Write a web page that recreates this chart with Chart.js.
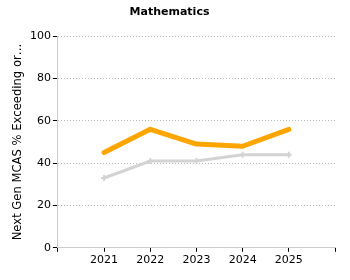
<!DOCTYPE html>
<html>
<head>
<meta charset="utf-8">
<script src="https://cdn.jsdelivr.net/npm/chart.js@4"></script>
<style>
    body { margin: 0; background: #fff; }
    #wrap { width: 350px; height: 280px; }
</style>
</head>
<body>
<div id="wrap"><canvas id="mathChart"></canvas></div>
<script>
// Data
const years = ['', '2021', '2022', '2023', '2024', '2025', ''];
const schoolValues = [null, 45, 56, 49, 48, 56, null];
const stateValues = [null, 33, 41, 41, 44, 44, null];
const yTicks = [0, 20, 40, 60, 80, 100];

const fontFamily = 'Verdana, "DejaVu Sans", sans-serif';

const ctx = document.getElementById('mathChart');

new Chart(ctx, {
    type: 'line',
    data: {
        labels: years,
        datasets: [
            {
                label: 'State',
                data: stateValues,
                borderColor: '#d3d3d3',
                backgroundColor: '#d3d3d3',
                borderWidth: 3,
                pointStyle: 'cross',
                pointRadius: 3,
                pointBorderWidth: 2,
                tension: 0
            },
            {
                label: 'School',
                data: schoolValues,
                borderColor: '#ffa500',
                backgroundColor: '#ffa500',
                borderWidth: 5,
                borderCapStyle: 'round',
                borderJoinStyle: 'round',
                pointRadius: 0,
                tension: 0
            }
        ]
    },
    options: {
        responsive: true,
        maintainAspectRatio: false,
        animation: false,
        layout: { padding: { left: 4, right: 15, bottom: 11 } },
        plugins: {
            legend: { display: false },
            tooltip: { enabled: false },
            title: {
                display: true,
                text: 'Mathematics',
                color: '#000',
                font: { family: fontFamily, size: 11, weight: 'bold' },
                padding: { top: 6, bottom: 17 }
            }
        },
        scales: {
            x: {
                offset: false,
                grid: {
                    drawOnChartArea: false,
                    drawTicks: true,
                    tickLength: 4,
                    tickColor: '#000'
                },
                border: { color: '#cccccc', width: 1 },
                ticks: {
                    color: '#000',
                    font: { family: fontFamily, size: 11 },
                    maxRotation: 0,
                    autoSkip: false,
                    padding: 2
                }
            },
            y: {
                min: 0,
                max: 100,
                afterBuildTicks: (scale) => {
                    scale.ticks = yTicks.map((v) => ({ value: v }));
                },
                grid: {
                    color: '#bbbbbb',
                    tickColor: '#000',
                    tickLength: 5,
                    tickBorderDash: []
                },
                border: { color: '#cccccc', width: 1, dash: [1, 2] },
                ticks: {
                    color: '#000',
                    font: { family: fontFamily, size: 11 },
                    padding: 2
                },
                title: {
                    display: true,
                    text: 'Next Gen MCAS % Exceeding or…',
                    color: '#000',
                    font: { family: fontFamily, size: 11.6 },
                    padding: { top: 7, bottom: 3 }
                }
            }
        }
    }
});
</script>
</body>
</html>
